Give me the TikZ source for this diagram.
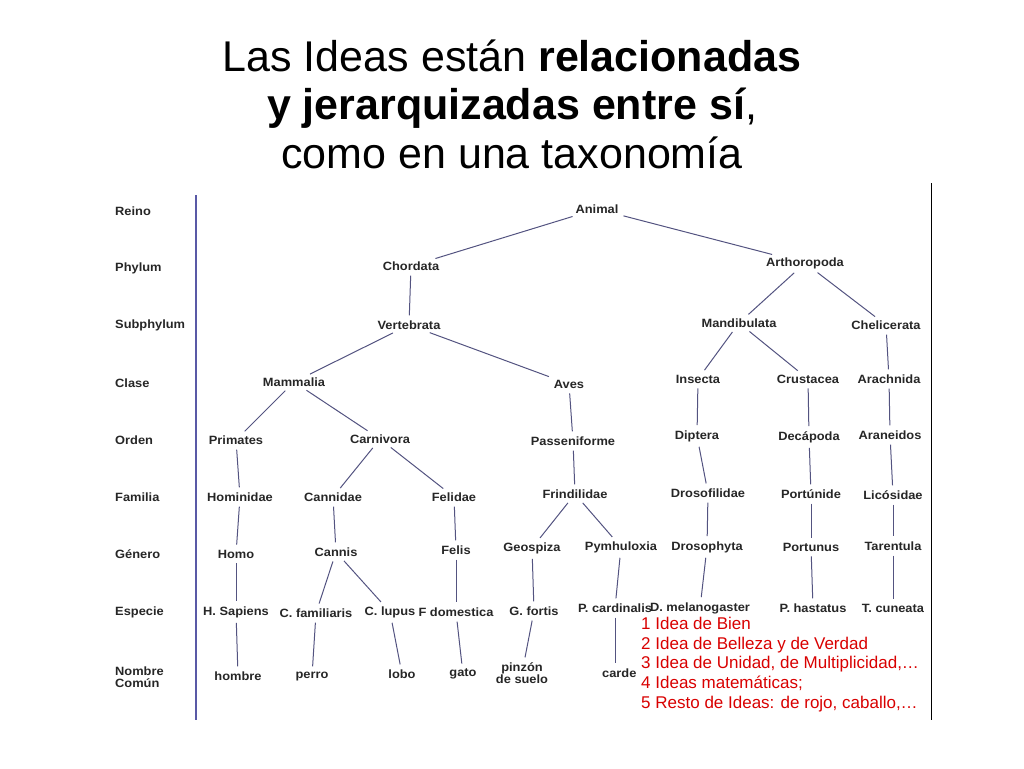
\documentclass[tikz,border=0pt]{standalone}
\usepackage{fontspec}
\setmainfont{Liberation Sans}
\newfontfamily\treefont[FakeStretch=1.07]{Liberation Sans}
\begin{document}
\begin{tikzpicture}[x=1pt,y=-1pt,
 t/.style={font=\treefont\fontsize{12}{13}\selectfont\bfseries,text=black!85,inner sep=2pt},
 lab/.style={t,anchor=west},
 e/.style={draw=black!50!blue!35!gray,line width=1pt,shorten >=3pt,shorten <=3pt}]
\useasboundingbox (0,0) rectangle (1024,768);
\node[font=\fontsize{43}{48.5}\selectfont,align=center] (title) at (512,104) {Las Ideas están \textbf{relacionadas}\\\textbf{y jerarquizadas entre sí},\\como en una taxonomía};
\draw[gray!70!blue,line width=1.8pt] (196,195) -- (196,720);
\draw[black,line width=0.8pt] (931,183) -- (931,720);
\foreach \n/\y in {Reino/211,Phylum/268,Subphylum/325,Clase/383,Orden/440,Familia/497,Género/554,Especie/612}
  \node[lab] at (113,\y) {\n};
\node[lab,align=left] (nc) at (113,677) {Nombre\\[-1pt]Común};
\foreach \id/\x/\y/\tx in {
 an/597/209/Animal, ch/411/266/Chordata, ar/805/263/Arthoropoda,
 ve/409/325/Vertebrata, ma/739/323/Mandibulata, ce/886/325/Chelicerata,
 mm/294/382/Mammalia, av/569/384/Aves, in/698/379/Insecta, cr/808/379/Crustacea, ac/889/379/Arachnida,
 pr/236/440/Primates, ca/380/439/Carnivora, pa/573/441/Passeniforme, di/697/436/Diptera, de/809/437/Decápoda, ad/890/435/Araneidos,
 ho/240/497/Hominidae, cn/333/497/Cannidae, fe/454/497/Felidae, fr/575/494/Frindilidae, dr/708/493/Drosofilidae, po/811/494/Portúnide, li/893/495/Licósidae,
 hm/236/554/Homo, cs/336/552/Cannis, fl/456/550/Felis, ge/532/548/Geospiza, py/621/547/Pymhuloxia, ds/707/547/Drosophyta, pt/811/547/Portunus, ta/893/546/Tarentula,
 hs/236/612/H. Sapiens, cf/316/613/C. familiaris, cl/390/612/C. lupus, fd/456/612/F domestica, gf/534/611/G. fortis, pc/615/608/P. cardinalis, dm/700/608/D. melanogaster, ph/813/608/P. hastatus, tc/893/608/T. cuneata,
 hb/238/676/hombre, pe/312/676/perro, lo/402/674/lobo, ga/463/674/gato}
  \node[t] (\id) at (\x,\y) {\tx};
\node[t,anchor=west] (cd) at (600,673) {carde};
\node[t,align=center] (pz) at (522,673) {pinzón\\[-1pt]de suelo};
\foreach \a/\b in {an/ch,an/ar,ch/ve,ar/ma,ar/ce,ve/mm,ve/av,ma/in,ma/cr,ce/ac,
 mm/pr,mm/ca,av/pa,in/di,cr/de,ac/ad,pr/ho,ca/cn,ca/fe,pa/fr,di/dr,de/po,ad/li,
 ho/hm,cn/cs,fe/fl,fr/ge,fr/py,dr/ds,po/pt,li/ta,
 hm/hs,cs/cf,cs/cl,fl/fd,ge/gf,py/pc,ds/dm,pt/ph,ta/tc,
 hs/hb,cf/pe,cl/lo,fd/ga,gf/pz}
  \draw[e] (\a) -- (\b);
\draw[e] (pc.south) -- (pc.south |- cd.north);
\node[fill=white,anchor=north west,inner sep=1pt,text=red!85!black,align=left,
 font=\fontsize{17}{19.7}\selectfont] (ideas) at (640,616)
 {1 Idea de Bien\\2 Idea de Belleza y de Verdad\\3 Idea de Unidad, de Multiplicidad,\dots\\4 Ideas matemáticas;\\5 Resto de Ideas: de rojo, caballo,\dots};
\end{tikzpicture}
\end{document}
